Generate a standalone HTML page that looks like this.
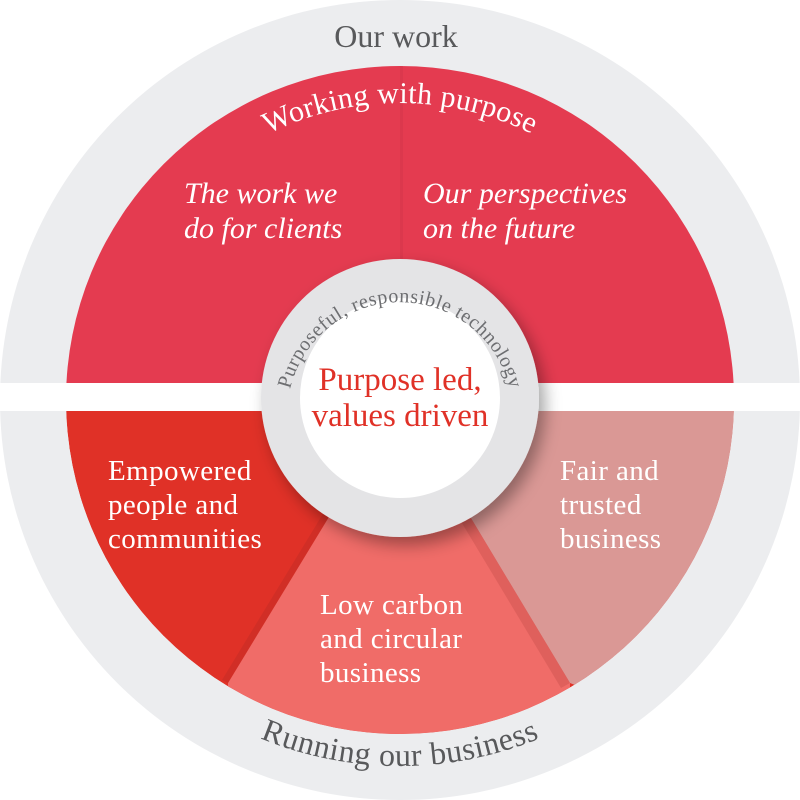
<!DOCTYPE html>
<html><head><meta charset="utf-8"><style>
html,body{margin:0;padding:0;background:#fff;}
svg{display:block;}
text{font-family:"Liberation Serif",serif;}
</style></head><body>
<svg width="800" height="800" viewBox="0 0 800 800" xmlns="http://www.w3.org/2000/svg">
<defs>
<filter id="sh" x="-30%" y="-30%" width="160%" height="160%">
<feDropShadow dx="6" dy="8" stdDeviation="8" flood-color="#000" flood-opacity="0.35"/>
</filter>
<clipPath id="top"><rect x="0" y="0" width="800" height="383"/></clipPath>
<clipPath id="bot"><rect x="0" y="411" width="800" height="400"/></clipPath>
<clipPath id="redc"><circle cx="400" cy="400" r="334"/></clipPath>
<path id="arcWork" d="M 103 400 A 297 297 0 0 1 697 400"/>
<path id="arcBot" d="M 34 400 A 366 366 0 0 0 766 400"/>
<path id="arcRing" d="M 291 445 A 113 113 0 1 1 509 445"/>
</defs>
<circle cx="400" cy="400" r="400" fill="#ecedef"/>
<rect x="0" y="383" width="800" height="28" fill="#fff"/>
<g clip-path="url(#top)">
<circle cx="400" cy="400" r="334" fill="#e43b50"/>
<g clip-path="url(#redc)"><rect x="400" y="60" width="3" height="330" fill="#d2354a" opacity="0.5"/></g>
</g>
<g clip-path="url(#bot)">
<g clip-path="url(#redc)">
<circle cx="400" cy="400" r="334" fill="#e03127"/>
<path d="M400 400 L570 683 L570 760 L228 760 L228 683 Z" fill="#f06c68"/>
<path d="M400 400 L228 683 L222 680 L394 397 Z" fill="#b52a24" opacity="0.35"/>
<path d="M400 400 L760 400 L760 760 L570 683 Z" fill="#da9895"/>
<path d="M400 400 L570 683 L561 688 L391 405 Z" fill="#c04a48" opacity="0.35"/>
</g>
</g>
<circle cx="400" cy="398" r="139" fill="#e4e4e6" filter="url(#sh)"/>
<circle cx="400" cy="398" r="100" fill="#fff"/>
<text font-size="20" fill="#6d6e71" letter-spacing="0.6"><textPath href="#arcRing" startOffset="50%" text-anchor="middle">Purposeful, responsible technology</textPath></text>
<text x="400" y="390" font-size="33" fill="#e03127" text-anchor="middle">Purpose led,</text>
<text x="400" y="426" font-size="33" fill="#e03127" text-anchor="middle">values driven</text>
<text x="396" y="47" font-size="32" fill="#58595b" text-anchor="middle">Our work</text>
<text font-size="32" fill="#58595b" letter-spacing="0.5"><textPath href="#arcBot" startOffset="50%" text-anchor="middle">Running our business</textPath></text>
<text font-size="30" fill="#fff" letter-spacing="0.3"><textPath href="#arcWork" startOffset="50%" text-anchor="middle">Working with purpose</textPath></text>
<g font-size="30" fill="#fff" font-style="italic">
<text x="184" y="203">The work we</text>
<text x="184" y="238">do for clients</text>
<text x="423" y="203">Our perspectives</text>
<text x="423" y="238">on the future</text>
</g>
<g font-size="29" fill="#fff" letter-spacing="0.4">
<text x="108" y="480">Empowered</text>
<text x="108" y="514">people and</text>
<text x="108" y="548">communities</text>
<text x="560" y="480">Fair and</text>
<text x="560" y="514">trusted</text>
<text x="560" y="548">business</text>
<text x="320" y="614">Low carbon</text>
<text x="320" y="648">and circular</text>
<text x="320" y="682">business</text>
</g>
</svg>
</body></html>
